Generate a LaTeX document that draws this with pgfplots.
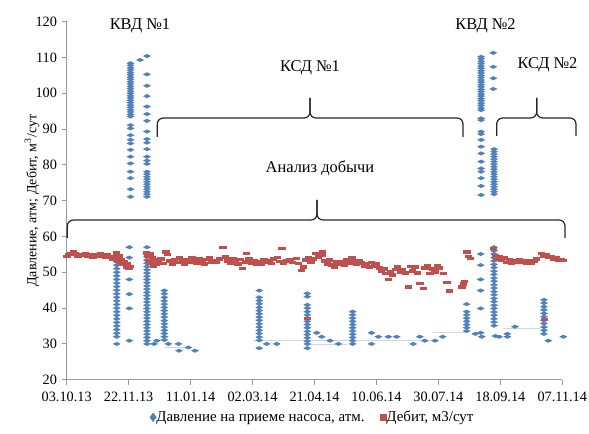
\documentclass[border=0pt]{standalone}
\usepackage{fontspec}
\setmainfont{Liberation Serif}
\usepackage{pgfplots}
\pgfplotsset{compat=1.18}
\definecolor{pblue}{RGB}{79,129,189}
\definecolor{dred}{RGB}{192,80,77}
\begin{document}
\begin{tikzpicture}
\useasboundingbox (-50.025pt,-40.725pt) rectangle (391.725pt,284.775pt);
\begin{axis}[at={(0,0)}, anchor=south west, scale only axis,
 width=371.7pt, height=268.5pt,
 xmin=0, xmax=400, ymin=20, ymax=120,
 axis x line=bottom, axis y line=left,
 axis line style={-, draw=gray!80, line width=0.6pt},
 xtick={0,50,...,400},
 xticklabels={03.10.13,22.11.13,11.01.14,02.03.14,21.04.14,10.06.14,30.07.14,18.09.14,07.11.14},
 ytick={20,30,...,120},
 tick align=outside, major tick length=3.75pt,
 tick style={gray!80, line width=0.6pt},
 ticklabel style={font=\rmfamily\fontsize{10.7}{12}\selectfont},
 xticklabel style={yshift=-2pt},
 /pgf/number format/assume math mode=true,
 ylabel={Давление, атм; Дебит, м\textsuperscript{3}/сут},
 ylabel style={at={(axis description cs:-0.070,0.5)}, anchor=center, font=\rmfamily\fontsize{10.5}{12}\selectfont},
 legend style={at={(0.497,-0.105)}, anchor=center, draw=none, legend columns=2,
   font=\rmfamily\fontsize{11.2}{12}\selectfont, /tikz/every even column/.append style={column sep=10pt},
   /tikz/every odd column/.append style={column sep=-2pt}},
 legend cell align=left,
 clip=false]
% faint connecting lines
\addplot[forget plot, draw=pblue!30, line width=0.5pt] coordinates {(150,31) (300,31)};
\addplot[forget plot, draw=pblue!30, line width=0.5pt] coordinates {(192,30) (226,30)};
\addplot[forget plot, draw=pblue!30, line width=0.5pt] coordinates {(296,33.1) (323,33.1)};
\addplot[forget plot, draw=pblue!30, line width=0.5pt] coordinates {(79,29) (98,29)};
\addplot[forget plot, draw=pblue!30, line width=0.5pt] coordinates {(352,34.4) (382,34.4)};
% pressure
\addplot[forget plot, only marks, mark=diamond*, color=pblue, mark size=2pt, mark options={xscale=1.7, yscale=0.65}] coordinates {
(40.4,55) (40.4,54) (40.4,53) (40.4,52) (40.4,51) (40.4,50) (40.4,49) (40.4,48) (40.4,47) (40.4,46)
(40.4,45) (40.4,44) (40.4,43) (40.4,42) (40.4,41) (40.4,40) (40.4,39) (40.4,38) (40.4,37) (40.4,36)
(40.4,35) (40.4,34) (40.4,33) (40.4,32) (40.4,30)
(50.5,57) (50.5,54.1) (50.5,48) (50.5,43.9) (50.5,39.9) (50.5,30.9)
(51.5,108.4) (51.5,107.8) (51.5,107.1) (51.5,106.5) (51.5,105.8) (51.5,105.2) (51.5,104.5) (51.5,103.9)
(51.5,103.2) (51.5,102.6) (51.5,101.9) (51.5,101.3) (51.5,100.6) (51.5,100) (51.5,99.3) (51.5,98.7)
(51.5,98) (51.5,97.4) (51.5,96.7) (51.5,96.1) (51.5,95.4) (51.5,94.8) (51.5,94.1) (51.5,93.5)
(51.5,91.1) (51.5,90.2) (51.5,88.3) (51.5,87) (51.5,86) (51.5,84.2) (51.5,82.3) (51.5,80.4)
(51.5,78.1) (51.5,76.3) (51.5,73.2) (51.5,71.1) (59.2,109.3)
(64.8,110.4) (64.8,105.3) (64.8,102.1) (64.8,99.2) (64.8,96.3) (64.8,94.2) (64.8,92.3) (64.8,89.3)
(64.8,87.2) (64.8,86.2) (64.8,84.4) (64.8,82.3) (64.8,81.2) (64.8,80.3) (64.8,78.1) (64.8,77.4)
(64.8,76.7) (64.8,76) (64.8,75.3) (64.8,74.6) (64.8,73.9) (64.8,73.2) (64.8,72.5) (64.8,71.8) (64.8,71.1)
(64.8,57) (64.8,55.2) (64.8,54.3) (64.8,53.4) (64.8,52.5) (64.8,51.6) (64.8,50.7) (64.8,49.8)
(64.8,48.9) (64.8,48) (64.8,47.1) (64.8,46.2) (64.8,45.3) (64.8,44.4) (64.8,43.5) (64.8,42.6)
(64.8,41.7) (64.8,40.8) (64.8,39.9) (64.8,39) (64.8,38.1) (64.8,37.2) (64.8,36.3) (64.8,35.4)
(64.8,34.5) (64.8,33.6) (64.8,32.7) (64.8,31.8) (64.8,30.9) (64.8,30)
(78.8,44.9) (78.8,44) (78.8,43) (78.8,42) (78.8,41.1) (78.8,40.2) (78.8,39.3) (78.8,38.4)
(78.8,37.5) (78.8,36.5) (78.8,35.6) (78.8,34.7) (78.8,33.8) (78.8,32.9) (78.8,32) (78.8,31.1)
(72.7,30.9) (70.5,30) (82.1,30) (90.2,30) (98.2,29) (90.7,28.1) (103.6,28.1)
(155.4,44.9) (155.4,43) (155.4,42.1) (155.4,41.2) (155.4,40.2) (155.4,39.3) (155.4,38.4) (155.4,37.5)
(155.4,36.6) (155.4,35.6) (155.4,34.7) (155.4,33.8) (155.4,32.9) (155.4,31.9) (155.4,31) (155.4,28.8)
(161.4,30) (169.5,30)
(194.2,44.1) (194.2,43.2) (194.2,40.9) (194.2,40) (194.2,39) (194.2,38.1) (194.2,37.2) (194.2,36.3)
(194.2,35.4) (194.2,34.5) (194.2,33.5) (194.2,32.6) (194.2,31.7) (194.2,30.8) (194.2,30) (194.2,28.8)
(201.8,33.1) (205.8,32) (212.5,30.9) (219.2,30)
(230.8,39) (230.8,38.1) (230.8,37.2) (230.8,36.3) (230.8,35.4) (230.8,34.5) (230.8,33.6) (230.8,32.7)
(230.8,31.8) (230.8,30.9) (230.8,30)
(246,33.1) (246,30) (251.5,32) (259.6,32) (266.3,32) (279.7,30) (285,32) (289,30.9) (297.3,30.9) (303.5,32)
(322.8,41.1) (322.8,39) (322.8,38.1) (322.8,37.2) (322.8,36.3) (322.8,35.4) (322.8,34.5) (322.8,33.6)
(329.8,32.8) (335,32)
(334.1,55.1) (334.1,52) (334.1,48) (334.1,44.9) (334.1,39.9) (334.1,33.1)
(334.5,110.2) (334.5,109.6) (334.5,108.9) (334.5,108.3) (334.5,107.6) (334.5,107) (334.5,106.3) (334.5,105.7)
(334.5,105) (334.5,104.4) (334.5,103.7) (334.5,103.1) (334.5,102.4) (334.5,101.8) (334.5,101.1) (334.5,100.5)
(334.5,99.8) (334.5,99.2) (334.5,98.5) (334.5,97.9) (334.5,97.2) (334.5,96.6) (334.5,95.9) (334.5,95.3)
(334.5,93) (334.5,92.5) (334.5,89.3) (334.5,88.6) (334.5,87) (334.5,85.1) (334.5,83.2) (334.5,80.9)
(334.5,79) (334.5,78.1) (334.5,76.3) (334.5,74.1) (334.5,71.6)
(344.3,111.3) (344.3,107.4) (344.3,104.2) (344.3,101.2)
(344.9,84.4) (344.9,83.7) (344.9,83) (344.9,82.3) (344.9,81.6) (344.9,80.9) (344.9,80.2) (344.9,79.5)
(344.9,78.8) (344.9,78.1) (344.9,77.4) (344.9,76.7) (344.9,76) (344.9,75.3) (344.9,74.6) (344.9,73.9)
(344.9,73.2) (344.9,72.5) (344.9,71.8)
(344.9,57) (344.9,56) (344.9,55.1) (344.9,54.1) (344.9,53.2) (344.9,52.2) (344.9,51.3) (344.9,50.3)
(344.9,49.4) (344.9,48.4) (344.9,47.5) (344.9,46.5) (344.9,45.6) (344.9,44.6) (344.9,43.7) (344.9,42.7)
(344.9,41.8) (344.9,40.8) (344.9,39.9) (344.9,38.9) (344.9,38) (344.9,37) (344.9,36.1) (344.9,35.1)
(349,32) (346,32.2) (355.7,32.8) (355.7,32) (361.8,34.8)
(385.2,42.3) (385.2,41.4) (385.2,40.4) (385.2,39.5) (385.2,38.5) (385.2,37.6) (385.2,36.6) (385.2,35.7)
(385.2,34.7) (385.2,33.8) (385.2,32.8) (388.7,30.9) (400.8,32)
};
% debit
\addplot[forget plot, only marks, mark=square*, color=dred, mark size=1.3pt, mark options={xscale=1.8, yscale=0.75}] coordinates {
(0,54.5) (1,55) (3,55.3) (5,55.8) (7,55.2) (9,54.6) (11,55) (13,54.8) (15,55.2) (17,54.6)
(19,55) (21,54.4) (23,55) (25,54.7) (27,55.2) (29,54.8) (31,54.2) (33,55) (35,54.3) (37,53.8)
(39,54.5) (40,55.5) (41,53.3) (42,54.6) (43,52.8) (44,53.5) (45,52.4) (46,53) (47,52.2) (48,51.6)
(49,52.5) (50,51.2) (51,51.7)
(64,55.5) (65,54.5) (66,53.3) (67,55.2) (68,52.5) (69,54) (70,51.8) (71,53.2) (72,52.2) (73,53.6)
(74,52.7) (76,53.8) (78,52.5) (80,55.8) (81,55) (83,53.2) (85,52.4) (87,53.5) (89,52.8) (91,54)
(93,53) (95,52.2) (97,53.6) (99,52.9) (101,54.2) (103,53.3) (105,52.6) (107,53.8) (109,53.1) (111,52.4)
(113,53.6) (115,54.1) (117,53) (119,53.4) (121,52.8) (123,53.7) (126,57) (128,54.4) (130,53.3) (132,52.6)
(134,53.8) (136,53) (138,52.4) (140,53.6) (142,51.1) (144,53) (145,55.3) (147,53.7) (149,52.7) (151,53.4)
(153,52.2) (155,53.1) (157,52.4) (159,53.5) (161,52.8) (163,53.2) (165,52.5) (167,53.7) (170,54.2) (172,53.1)
(173.5,56.7) (175,52.6) (177,53.3) (180,53.6) (182,52.8) (185,53.9) (187,52.5) (189.6,50.6) (191,51.6) (193,53.5)
(195,54.2) (197,52.9) (199,53.7) (201,55.3) (203,54.3) (205.8,54.8) (206.5,55.8) (208,53.2) (210,52.4) (212,53.5)
(214,52.1) (216,51.6) (218,52.9) (220,52.3) (222,53.1) (224,52.1) (226,53.5) (228,52.6) (230,54) (232,53.1)
(234,52.4) (236,53.2) (238,52.7) (240,51.8) (242,52.4) (244,51.5) (246,52.8) (248,51.8) (250,52.3) (252,51.2)
(254,50.4) (256,51) (257.5,49.7) (259.6,48) (261,50.3) (263,49.3) (265,50.8) (267,51.6) (269,50.2) (271,50.9)
(273,49.8) (275.7,46) (277,51.7) (279,50.4) (281,51.6) (283,49.9) (285,46.9) (287.8,45.5) (289,51.2) (291,52)
(293,49.7) (295,51) (297,50.2) (299,52) (301,51.3) (304,49.7) (306.7,47.2) (308.8,44.9) (318.8,46) (320,46.8)
(321,47.5) (322.8,55.8) (324,54.5) (325.5,53.9)
(344.3,56.7) (346,54.8) (347,53.6) (349,54.3) (351,53.4) (353,54) (355,52.8) (357,53.6) (359,52.7) (361,53.3)
(363,52.9) (365,53.6) (367,52.8) (369,53.2) (371,52.6) (373,53.4) (375,52.7) (377,53.1) (379,53.8) (383,55.3)
(385,54.6) (387,55) (389,54.2) (391,54.5) (393,53.8) (395,54.1) (397,53.5) (399,53.6) (400.8,53.4)
(194.2,37.2) (385.2,36.9)
};
\addlegendimage{only marks, mark=diamond*, color=pblue, mark size=3.2pt}
\addlegendentry{Давление на приеме насоса, атм.}
\addlegendimage{only marks, mark=square*, color=dred, mark size=2.2pt}
\addlegendentry{Дебит, м3/сут}
\end{axis}
\begin{scope}[shift={(-50.025pt,284.775pt)}, x=0.75pt, y=-0.75pt]
\tikzset{br/.style={draw=black!85, line width=0.9pt, rounded corners=4.5pt}}
\path[br] (157.3,137) -- (157.3,118) -- (310,118) -- (310,98);
\path[br] (310,98) -- (310,118) -- (463,118) -- (463,137);
\path[br] (67.3,238) -- (67.3,220) -- (317,220) -- (317,200);
\path[br] (317,200) -- (317,220) -- (565,220) -- (565,238);
\path[br] (496.7,136) -- (496.7,118) -- (536.7,118) -- (536.7,98);
\path[br] (536.7,98) -- (536.7,118) -- (576,118) -- (576,136);
\tikzset{lab/.style={font=\rmfamily\fontsize{12.3}{14}\selectfont, inner sep=0pt}}
\node[lab] at (140,26) {КВД №1};
\node[lab] at (310,68) {КСД №1};
\node[lab] at (320,168) {Анализ добычи};
\node[lab] at (485.5,26) {КВД №2};
\node[lab] at (547.5,65) {КСД №2};
\end{scope}
\end{tikzpicture}
\end{document}
